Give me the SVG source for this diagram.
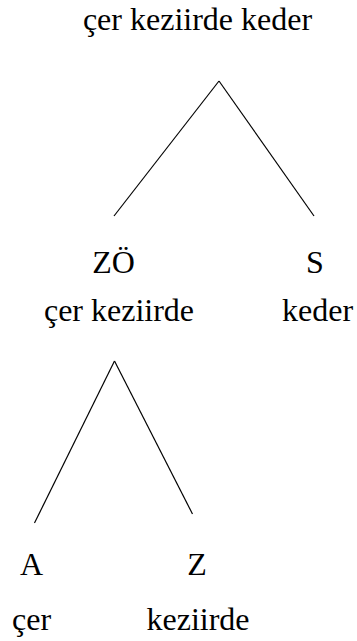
<svg xmlns="http://www.w3.org/2000/svg" width="357" height="641" viewBox="0 0 357 641" font-family="Times New Roman, Liberation Serif, Tinos, serif">
<style>
.t{font-family:"Times New Roman","Liberation Serif",Tinos,serif;font-size:32px;fill:#000;text-anchor:middle}
.c line{stroke:#000;stroke-width:1.2;fill:none}
</style>
<rect width="357" height="641" fill="#fff"/>
<g class="c" id="connectors">
<line x1="219" y1="81" x2="114" y2="216"/>
<line x1="219" y1="81" x2="314" y2="216"/>
<line x1="114.5" y1="361" x2="34.5" y2="523"/>
<line x1="114.5" y1="361" x2="192.5" y2="514"/>
</g>
<g id="root"><text class="t" x="197.5" y="30">çer keziirde keder</text></g>
<g id="zo"><text class="t" x="113.5" y="273">ZÖ</text><text class="t" x="119" y="321">çer keziirde</text></g>
<g id="s"><text class="t" x="315" y="273">S</text><text class="t" x="317.5" y="321">keder</text></g>
<g id="a"><text class="t" x="31.5" y="575">A</text><text class="t" x="31.5" y="630">çer</text></g>
<g id="z"><text class="t" x="197" y="575">Z</text><text class="t" x="198" y="630">keziirde</text></g>
</svg>
